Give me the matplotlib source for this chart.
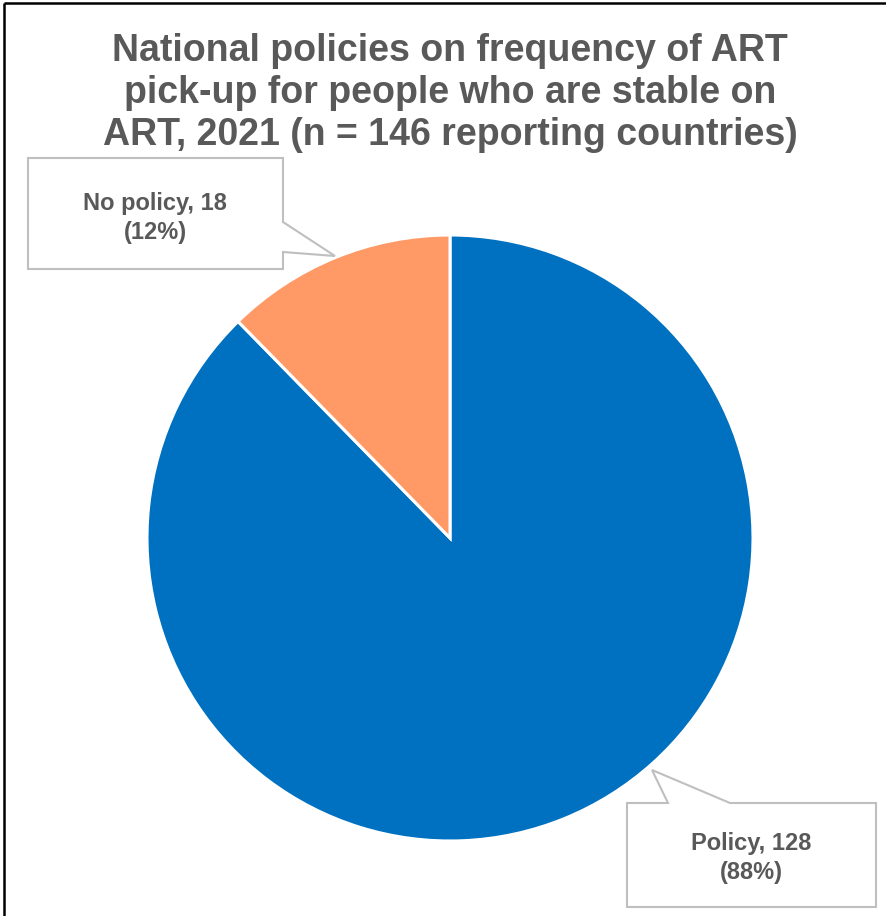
import matplotlib
matplotlib.use("Agg")
import matplotlib.pyplot as plt
from matplotlib.patches import Polygon

# datos del grafico
categorias = ["Policy", "No policy"]
valores = [128, 18]
porcentajes = ["88%", "12%"]
colores = ["#0070C0", "#FF9966"]
titulo = ("National policies on frequency of ART\n"
          "pick-up for people who are stable on\n"
          "ART, 2021 (n = 146 reporting countries)")

W, H = 887, 916
fig = plt.figure(figsize=(W / 100, H / 100), dpi=100)

# ejes del pie (centro y radio en pixeles)
cx, cy, r = 450, 538, 303
ax = fig.add_axes([(cx - r) / W, (H - cy - r) / H, 2 * r / W, 2 * r / H])
ax.pie(valores, colors=colores, startangle=90, counterclock=False,
       wedgeprops=dict(edgecolor="white", linewidth=2.2))
ax.set_xlim(-1, 1)
ax.set_ylim(-1, 1)
ax.set_aspect("auto")
ax.axis("off")

# capa en pixeles para llamadas y borde
ov = fig.add_axes([0, 0, 1, 1], zorder=5)
ov.set_xlim(0, W)
ov.set_ylim(H, 0)
ov.axis("off")
ov.patch.set_alpha(0)

gris = "#595959"
borde = "#BFBFBF"

# llamada No policy
p1 = [(28, 158), (283, 158), (283, 222), (335, 256), (283, 252), (283, 269), (28, 269)]
ov.add_patch(Polygon(p1, closed=True, facecolor="white", edgecolor=borde, linewidth=1.5))
ov.text(155, 218, "%s, %d\n(%s)" % (categorias[1], valores[1], porcentajes[1]),
        ha="center", va="center", fontsize=17, fontweight="bold", color=gris,
        family="Liberation Sans", linespacing=1.3)

# llamada Policy
p2 = [(627, 803), (668, 803), (652, 770), (730, 803), (876, 803), (876, 907), (627, 907)]
ov.add_patch(Polygon(p2, closed=True, facecolor="white", edgecolor=borde, linewidth=1.5))
ov.text(751, 858, "%s, %d\n(%s)" % (categorias[0], valores[0], porcentajes[0]),
        ha="center", va="center", fontsize=17, fontweight="bold", color=gris,
        family="Liberation Sans", linespacing=1.3)

# titulo
ov.text(450, 93, titulo, ha="center", va="center", fontsize=27, fontweight="bold",
        color=gris, family="Liberation Sans", linespacing=1.22)

# borde negro
ov.plot([4, W], [3, 3], color="black", linewidth=1.8, solid_capstyle="butt")
ov.plot([4, 4], [3, H], color="black", linewidth=1.8, solid_capstyle="butt")

fig.savefig("out.png", dpi=100)
